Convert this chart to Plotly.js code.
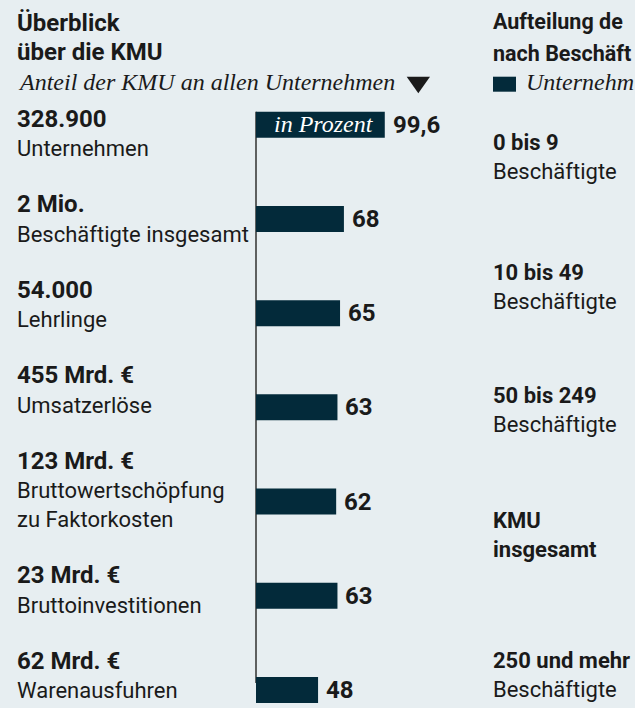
<!DOCTYPE html>
<html><head><meta charset="utf-8">
<script src="https://cdn.plot.ly/plotly-3.0.1.min.js"></script>
<style>html,body{margin:0;padding:0;background:#e7eef1;}#chart{width:635px;height:708px;}</style>
</head><body><div id="chart"></div>
<script>
// ---------- data ----------
const categories = ["Unternehmen","Beschäftigte insgesamt","Lehrlinge","Umsatzerlöse","Bruttowertschöpfung zu Faktorkosten","Bruttoinvestitionen","Warenausfuhren"];
const amounts = ["328.900","2 Mio.","54.000","455 Mrd. €","123 Mrd. €","23 Mrd. €","62 Mrd. €"];
const descriptionLines = [["Unternehmen"],["Beschäftigte insgesamt"],["Lehrlinge"],["Umsatzerlöse"],["Bruttowertschöpfung","zu Faktorkosten"],["Bruttoinvestitionen"],["Warenausfuhren"]];
const shares = [99.6, 68, 65, 63, 62, 63, 48];
const sizeClassTop = ["0 bis 9","10 bis 49","50 bis 249","KMU","250 und mehr"];
const sizeClassBottom = ["Beschäftigte","Beschäftigte","Beschäftigte","insgesamt","Beschäftigte"];
const sizeClassBottomBold = [false,false,false,true,false];
const leftTitle = ["Überblick","über die KMU"];
const leftSubtitle = "Anteil der KMU an allen Unternehmen";
const rightTitle = ["Aufteilung de","nach Beschäft"];   // cut at the picture's right edge
const rightLegend = "Unternehm";
const unitLabel = "in Prozent";

// ---------- layout constants ----------
const W = 635, H = 708;
const plotL = 240, plotR = 635, plotT = 100, plotB = 708;
const zeroX = 256, pxPerUnit = 1.293;
const firstCenter = 124.7, lastCenter = 690, barPx = 26;
const INK = "#1a1a1a", BAR = "#032a3a", BG = "#e7eef1";
const n = categories.length;
const step = (lastCenter - firstCenter) / (n - 1);

const SANS = "Roboto, 'Liberation Sans', sans-serif";
const BOLD = {family:SANS, weight:700, size:24, color:INK};
const REG = {family:SANS, size:22, color:INK};
const ITAL = {family:"'Liberation Serif', 'DejaVu Serif', serif", style:"italic", size:24, color:INK};
const RBOLD = Object.assign({}, BOLD, {size:22});
const RTITLE = Object.assign({}, BOLD, {size:21.5});

const px = x => (x - plotL) / (plotR - plotL);
const py = y => (plotB - y) / (plotB - plotT);

function txt(text, xpx, baseline, font, extra) {
  return Object.assign({
    text: text, xref: "paper", yref: "paper",
    x: px(xpx), y: py(baseline - 0.34 * font.size),
    xanchor: "left", yanchor: "middle", showarrow: false,
    borderpad: 0, font: font
  }, extra || {});
}

const annotations = [];
const leftX = 15.5;
// left title block
annotations.push(txt(leftTitle[0], leftX, 31.5, BOLD));
annotations.push(txt(leftTitle[1], leftX, 60.5, BOLD));
annotations.push(txt(leftSubtitle, leftX + 1, 90.5, ITAL));

// left labels
let base = 126.7;
const lineH = 29.3, itemGap = 85.5;
for (let i = 0; i < n; i++) {
  annotations.push(txt(amounts[i], leftX, base, BOLD));
  descriptionLines[i].forEach((l, j) => annotations.push(txt(l, leftX, base + lineH * (j + 1), REG)));
  base += itemGap + lineH * (descriptionLines[i].length - 1);
}

// unit label inside first bar
annotations.push(txt(unitLabel, 272.7, 132.3, Object.assign({}, ITAL, {color:"#ffffff"})));

// value labels tied to bars
for (let i = 0; i < n; i++) {
  annotations.push({
    text: String(shares[i]).replace(".", ","), xref: "x", yref: "y",
    x: shares[i], y: categories[i], xanchor: "left", yanchor: "middle",
    xshift: 7, showarrow: false, borderpad: 0, font: BOLD
  });
}

// right panel
const rightX = 491.5;
annotations.push(txt(rightTitle[0], rightX, 29.3, RTITLE));
annotations.push(txt(rightTitle[1], rightX, 61, RTITLE));
annotations.push(txt(rightLegend, 525, 90, ITAL));
const rightRows = [150, 280, 403.3, 528.3, 668.3];
for (let i = 0; i < sizeClassTop.length; i++) {
  annotations.push(txt(sizeClassTop[i], rightX, rightRows[i], RBOLD));
  annotations.push(txt(sizeClassBottom[i], rightX, rightRows[i] + 28.7, sizeClassBottomBold[i] ? RBOLD : REG));
}

const shapes = [
  {type:"line", xref:"x", yref:"paper", x0:0, x1:0, y0:py(683), y1:py(firstCenter - barPx/2), line:{color:"#3c3c3c", width:1.6}, layer:"below"},
  {type:"path", xref:"paper", yref:"paper",
   path:`M ${px(406.7)},${py(76.7)} L ${px(430)},${py(76.7)} L ${px(418.3)},${py(93.3)} Z`,
   fillcolor:INK, line:{width:0}},
  {type:"rect", xref:"paper", yref:"paper", x0:px(493), x1:px(516), y0:py(91.7), y1:py(76.7), fillcolor:BAR, line:{width:0}}
];

const trace = {
  type: "bar", orientation: "h",
  x: shares, y: categories,
  marker: {color: BAR, line: {width: 0}},
  hoverinfo: "skip", showlegend: false
};

const layout = {
  width: W, height: H,
  margin: {l: plotL, r: W - plotR, t: plotT, b: H - plotB, pad: 0},
  paper_bgcolor: BG, plot_bgcolor: BG,
  bargap: 1 - barPx / step,
  xaxis: {range: [-(zeroX - plotL) / pxPerUnit, (plotR - zeroX) / pxPerUnit], showgrid:false, zeroline:false, showline:false, showticklabels:false, ticks:"", fixedrange:true},
  yaxis: {type:"category", range: [(n - 1) + (plotB - lastCenter) / step, -(firstCenter - plotT) / step],
          showgrid:false, zeroline:false, showline:false, showticklabels:false, ticks:"", fixedrange:true},
  annotations: annotations,
  shapes: shapes,
  showlegend: false
};

Plotly.newPlot("chart", [trace], layout, {staticPlot: true, displayModeBar: false});
</script>
</body></html>
